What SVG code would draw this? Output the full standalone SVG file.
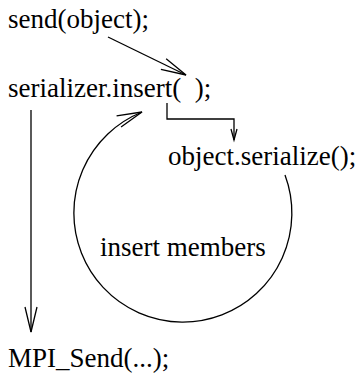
<svg xmlns="http://www.w3.org/2000/svg" width="358" height="375" viewBox="0 0 358 375">
  <style>
    text { font-family: "Liberation Serif", "Times New Roman", serif; font-size: 27px; fill: #000; }
    .ln { fill: none; stroke: #000; stroke-width: 1.3; }
  </style>
  <defs>
    <marker id="big" markerUnits="userSpaceOnUse" orient="auto" refX="0" refY="0" markerWidth="30" markerHeight="16" viewBox="-27 -8 30 16" overflow="visible">
      <path d="M-25,-6 L0,0 L-25,6" fill="none" stroke="#000" stroke-width="1.3"/>
    </marker>
    <marker id="small" markerUnits="userSpaceOnUse" orient="auto" refX="0" refY="0" markerWidth="14" markerHeight="8" viewBox="-12 -4 14 8" overflow="visible">
      <path d="M-11,-3 L0,0 L-11,3" fill="none" stroke="#000" stroke-width="1.3"/>
    </marker>
  </defs>
  <g id="send"><text x="8" y="28">send(object);</text></g>
  <g id="insert"><text x="8" y="97" xml:space="preserve">serializer.insert(  );</text></g>
  <g id="serialize"><text x="168" y="165">object.serialize();</text></g>
  <g id="members"><text x="100" y="256">insert members</text></g>
  <g id="mpisend"><text x="8" y="367">MPI_Send(...);</text></g>
  <g id="connectors">
    <path class="ln" d="M108,37 L186,75" marker-end="url(#big)"/>
    <path class="ln" d="M31,110 L31,332" marker-end="url(#big)"/>
    <path class="ln" d="M167,103 V119 H234 V140" marker-end="url(#small)"/>
    <path class="ln" d="M285,175 A109,109 0 1 1 142,112" marker-end="url(#big)"/>
  </g>
</svg>
